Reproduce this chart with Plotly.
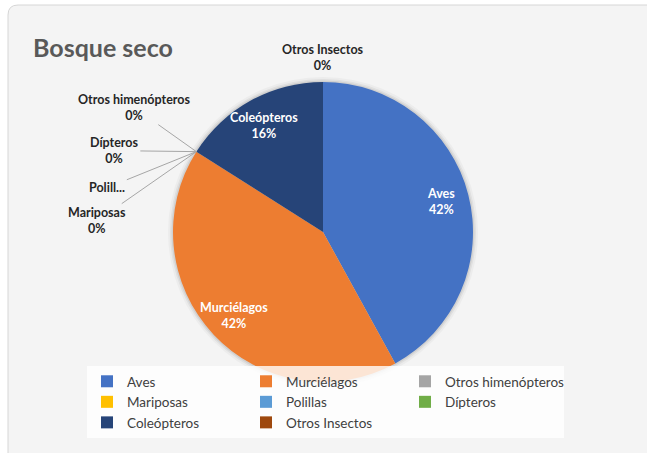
import math
import plotly.graph_objects as go

categorias = ["Aves", "Murciélagos", "Otros himenópteros", "Mariposas",
              "Polillas", "Dípteros", "Coleópteros", "Otros Insectos"]
valores = [42, 42, 0, 0, 0, 0, 16, 0]
colores = ["#4472C4", "#ED7D31", "#A5A5A5", "#FFC000",
           "#5B9BD5", "#70AD47", "#264478", "#9E480E"]
# nombres cortos que usa la etiqueta externa
nombre_corto = {"Polillas": "Polill..."}

W, H = 647, 453
ML, MR, MT, MB = 80, 40, 0, 0
PW, PH = W - ML - MR, H - MT - MB

def px_x(x):
    return (x - ML) / PW

def px_y(y):
    return (H - MB - y) / PH

# centro y radio del pastel en pixeles
cx, cy, r = 323, 232, 150

fig = go.Figure(go.Pie(
    labels=categorias, values=valores, sort=False, direction="clockwise",
    rotation=0,
    marker=dict(colors=colores, line=dict(width=0)),
    textinfo="none",
    domain=dict(x=[px_x(cx - r), px_x(cx + r)], y=[px_y(cy + r), px_y(cy - r)]),
    hoverinfo="label+percent",
))

# desplazamiento (px) de las etiquetas de las rebanadas en 0%
desplaz = {"Otros himenópteros": (-62, -44), "Dípteros": (-82, -1),
           "Polillas": (-89, 36), "Mariposas": (-99, 69),
           "Otros Insectos": (0, -25)}

total = sum(valores)
acum = 0
for cat, v in zip(categorias, valores):
    inicio = acum
    acum += v
    pct = f"{v / total:.0%}"
    if v > 0:
        ang = math.radians((inicio + v / 2) / total * 360)
        x = cx + 0.81 * r * math.sin(ang)
        y = cy - 0.81 * r * math.cos(ang)
        fig.add_annotation(x=px_x(x), y=px_y(y), xref="paper", yref="paper",
                           xanchor="center", yanchor="middle",
                           text=f"{cat}<br>{pct}", showarrow=False,
                           font=dict(family="Lato", size=12.5, color="white",
                                     weight="bold"))
    else:
        ang = math.radians(acum / total * 360)
        x = cx + r * math.sin(ang)
        y = cy - r * math.cos(ang)
        ax, ay = desplaz[cat]
        texto = nombre_corto.get(cat, f"{cat}<br>{pct}")
        fuente = dict(family="Lato", size=12.5, color="#262626", weight="bold")
        if cat == "Otros Insectos":
            fig.add_annotation(x=px_x(x), y=px_y(y), xref="paper", yref="paper",
                               xanchor="center", yanchor="middle",
                               text=texto, showarrow=False, xshift=ax, yshift=-ay,
                               font=fuente)
        else:
            fig.add_annotation(x=px_x(x), y=px_y(y), xref="paper", yref="paper",
                               text=texto, ax=ax, ay=ay, showarrow=True,
                               arrowhead=0, arrowwidth=1, arrowcolor="#a6a6a6",
                               font=fuente)

# fondo tipo tarjeta con esquina redondeada
x0, y0, x1, y1, rc = 8, 5, 680, 480, 10
path = (f"M {px_x(x0)} {px_y(y1)} L {px_x(x0)} {px_y(y0 + rc)} "
        f"Q {px_x(x0)} {px_y(y0)} {px_x(x0 + rc)} {px_y(y0)} "
        f"L {px_x(x1)} {px_y(y0)} L {px_x(x1)} {px_y(y1)} Z")
fig.add_shape(type="path", path=path, xref="paper", yref="paper",
              fillcolor="#f4f4f4", line=dict(color="#d6d6d6", width=1),
              layer="below")
# sombra suave alrededor del pastel
for extra, alfa in [(5, 0.03), (3, 0.05), (1.5, 0.07)]:
    fig.add_shape(type="circle", xref="paper", yref="paper",
                  x0=px_x(cx - r - extra), x1=px_x(cx + r + extra),
                  y0=px_y(cy + r + extra), y1=px_y(cy - r - extra),
                  fillcolor=f"rgba(0,0,0,{alfa})", line=dict(width=0),
                  layer="below")

fig.update_layout(
    width=W, height=H,
    margin=dict(l=ML, r=MR, t=MT, b=MB, autoexpand=False),
    paper_bgcolor="white", plot_bgcolor="white",
    title=dict(text="Bosque seco", x=33 / W, xanchor="left", xref="container",
               y=1 - 48 / H, yanchor="middle", yref="container",
               font=dict(family="Lato", size=25, color="#595959", weight="bold")),
    legend=dict(orientation="h", x=px_x(87), xanchor="left", y=px_y(366),
                yanchor="top", entrywidth=114, entrywidthmode="pixels",
                bgcolor="rgba(255,255,255,0.8)",
                font=dict(family="Lato", size=13.5, color="#404040")),
    showlegend=True,
)

fig.write_html("out.html", config={"displayModeBar": False},
               post_script="document.body.style.margin='0';")
